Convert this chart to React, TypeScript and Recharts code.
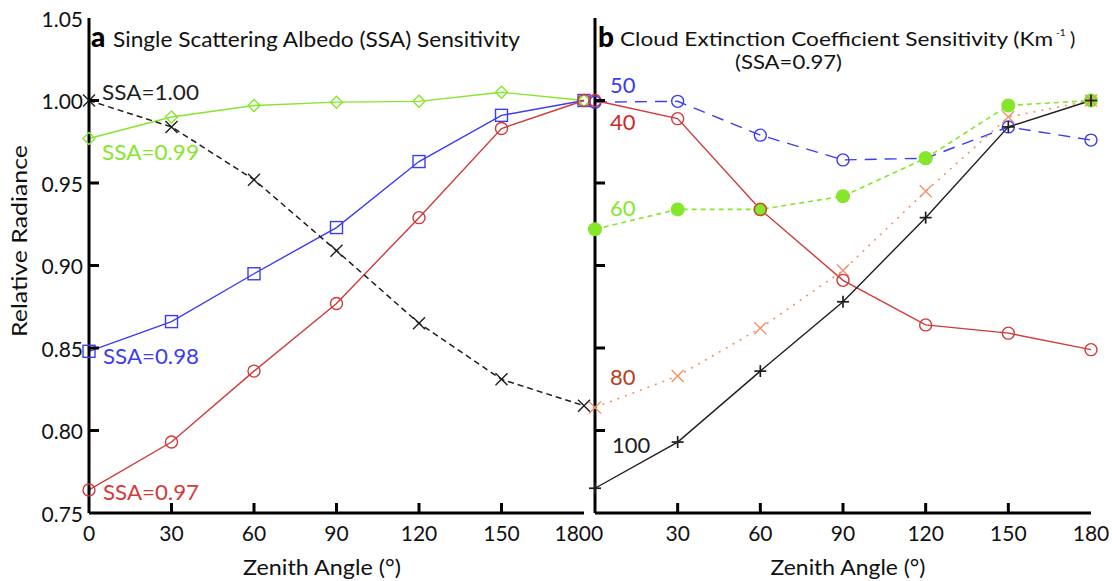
import React from 'react';
import { LineChart, Line, XAxis, YAxis } from 'recharts';

// zenith angles (deg)
const angles = [0, 30, 60, 90, 120, 150, 180];

// panel a: single scattering albedo sensitivity
const ssa100 = [1.0, 0.984, 0.952, 0.909, 0.865, 0.831, 0.815];
const ssa099 = [0.977, 0.99, 0.997, 0.999, 0.9995, 1.005, 1.0];
const ssa098 = [0.848, 0.866, 0.895, 0.923, 0.963, 0.991, 1.0];
const ssa097 = [0.764, 0.793, 0.836, 0.877, 0.929, 0.983, 1.0];

// panel b: cloud extinction coefficient sensitivity (SSA=0.97)
const ext40 = [1.0, 0.989, 0.934, 0.891, 0.864, 0.859, 0.849];
const ext50 = [0.999, 0.9995, 0.979, 0.964, 0.965, 0.984, 0.976];
const ext60 = [0.922, 0.934, 0.934, 0.942, 0.965, 0.997, 1.0];
const ext80 = [0.814, 0.833, 0.862, 0.897, 0.945, 0.99, 1.0];
const ext100 = [0.765, 0.793, 0.836, 0.878, 0.929, 0.984, 1.0];

const xTicks = [0, 30, 60, 90, 120, 150, 180];
const xInnerTicks = [30, 60, 90, 120, 150];
const yTicks = [0.75, 0.8, 0.85, 0.9, 0.95, 1.0, 1.05];
const yInnerTicks = [0.8, 0.85, 0.9, 0.95, 1.0];

const dataA = angles.map((a, i) => ({ angle: a, s100: ssa100[i], s099: ssa099[i], s098: ssa098[i], s097: ssa097[i] }));
const dataB = angles.map((a, i) => ({ angle: a, e40: ext40[i], e50: ext50[i], e60: ext60[i], e80: ext80[i], e100: ext100[i] }));

const FONT = 'Lato, "Open Sans", sans-serif';
const BLACK = '#1e1e1e';
const GREEN = '#86e62c';
const BLUE = '#3c3cf2';
const RED = '#d23a3a';
const ORANGE = '#f0946a';

type DotKind = 'x' | 'plus' | 'diamond' | 'square' | 'circle' | 'disc';

function makeDot(kind: DotKind, color: string) {
  return (p: any) => {
    const { cx, cy, index } = p;
    const k = `${kind}-${color}-${index}`;
    if (cx == null || cy == null) return <g key={k} />;
    const s = 6;
    const sw = 1.4;
    switch (kind) {
      case 'x':
        return (
          <g key={k} stroke={color} strokeWidth={sw}>
            <line x1={cx - s} y1={cy - s} x2={cx + s} y2={cy + s} />
            <line x1={cx - s} y1={cy + s} x2={cx + s} y2={cy - s} />
          </g>
        );
      case 'plus':
        return (
          <g key={k} stroke={color} strokeWidth={sw + 0.3}>
            <line x1={cx - s} y1={cy} x2={cx + s} y2={cy} />
            <line x1={cx} y1={cy - s} x2={cx} y2={cy + s} />
          </g>
        );
      case 'diamond':
        return <polygon key={k} points={`${cx},${cy - s} ${cx + s},${cy} ${cx},${cy + s} ${cx - s},${cy}`} fill="none" stroke={color} strokeWidth={sw} />;
      case 'square':
        return <rect key={k} x={cx - 6} y={cy - 6} width={12} height={12} fill="none" stroke={color} strokeWidth={sw} />;
      case 'circle':
        return <circle key={k} cx={cx} cy={cy} r={6} fill="none" stroke={color} strokeWidth={sw} />;
      default:
        return <circle key={k} cx={cx} cy={cy} r={7} fill={color} stroke="none" />;
    }
  };
}

const tickText = { fontFamily: FONT, fontSize: 21, fill: '#111' };

// the two panels share the "180"/"0" corner, so the end labels are pushed apart like "1800"
const bottomTick = (panel: 'a' | 'b') => (p: any) => {
  const { x, y, payload } = p;
  const v = payload.value;
  let anchor: 'middle' | 'end' | 'start' = 'middle';
  let tx = x;
  if (panel === 'a' && v === 180) { anchor = 'end'; tx = x + 7; }
  if (panel === 'b' && v === 0) { anchor = 'start'; tx = x - 4; }
  return (
    <g>
      {xInnerTicks.includes(v) && <line x1={x} x2={x} y1={y} y2={y - 10} stroke="#000" strokeWidth={3} />}
      <text x={tx} y={y + 19} textAnchor={anchor} dominantBaseline="central" {...tickText}>{v}</text>
    </g>
  );
};

const topTick = (p: any) => {
  const { x, y } = p;
  return <line x1={x} x2={x} y1={y} y2={y + 10} stroke="#000" strokeWidth={3} />;
};

const leftTick = (labels: boolean) => (p: any) => {
  const { x, y, payload } = p;
  const v = payload.value;
  const inner = yInnerTicks.some((t) => Math.abs(t - v) < 1e-6);
  return (
    <g>
      {inner && <line x1={x} x2={x + 10} y1={y} y2={y} stroke="#000" strokeWidth={3} />}
      {labels && (
        <text x={x - 6} y={y} textAnchor="end" dominantBaseline="central" {...tickText}>{v.toFixed(2)}</text>
      )}
    </g>
  );
};

const rightTick = (p: any) => {
  const { x, y, payload } = p;
  const v = payload.value;
  const inner = yInnerTicks.some((t) => Math.abs(t - v) < 1e-6);
  return inner ? <line x1={x} x2={x - 10} y1={y} y2={y} stroke="#000" strokeWidth={3} /> : <g />;
};

const axisLine = { stroke: '#000', strokeWidth: 3 };

const Panel: React.FC<{ id: 'a' | 'b'; data: any[]; width: number; yWidth: number; right: number; children: React.ReactNode }> = ({ id, data, width, yWidth, right, children }) => (
  <LineChart width={width} height={581} data={data} margin={{ top: 18, right, bottom: 0, left: 0 }} style={{ overflow: 'visible' }}>
    <XAxis dataKey="angle" type="number" domain={[0, 180]} ticks={xTicks} interval={0} height={68} tickSize={0} tickMargin={0} tickLine={false} axisLine={axisLine} tick={bottomTick(id)} />
    <XAxis xAxisId="top" orientation="top" dataKey="angle" type="number" domain={[0, 180]} ticks={xInnerTicks} interval={0} height={0} tickSize={0} tickMargin={0} tickLine={false} axisLine={axisLine} tick={topTick} />
    <YAxis type="number" domain={[0.75, 1.05]} ticks={yTicks} interval={0} width={yWidth} tickSize={0} tickMargin={0} tickLine={false} axisLine={axisLine} tick={leftTick(id === 'a')} />
    <YAxis yAxisId="right" orientation="right" type="number" domain={[0.75, 1.05]} ticks={yTicks} interval={0} width={0} tickSize={0} tickMargin={0} tickLine={false} axisLine={axisLine} tick={rightTick} />
    {children}
  </LineChart>
);

export default function App() {
  const lbl = { fontFamily: FONT, fontSize: 22 };
  return (
    <div style={{ position: 'absolute', left: 0, top: 0, width: 1112, height: 581, background: '#fff', overflow: 'hidden' }}>
      <div style={{ position: 'absolute', left: 0, top: 0 }}>
        <Panel id="a" data={dataA} width={600} yWidth={89} right={16}>
          <Line dataKey="s099" stroke={GREEN} strokeWidth={1.4} dot={makeDot('diamond', GREEN)} isAnimationActive={false} />
          <Line dataKey="s098" stroke={BLUE} strokeWidth={1.4} dot={makeDot('square', BLUE)} isAnimationActive={false} />
          <Line dataKey="s097" stroke={RED} strokeWidth={1.4} dot={makeDot('circle', RED)} isAnimationActive={false} />
          <Line dataKey="s100" stroke={BLACK} strokeWidth={1.5} strokeDasharray="6 4" dot={makeDot('x', BLACK)} isAnimationActive={false} />
        </Panel>
      </div>
      <div style={{ position: 'absolute', left: 540, top: 0 }}>
        <Panel id="b" data={dataB} width={572} yWidth={55} right={21}>
          <Line dataKey="e50" stroke={BLUE} strokeWidth={1.4} strokeDasharray="12 8" dot={makeDot('circle', BLUE)} isAnimationActive={false} />
          <Line dataKey="e60" stroke={GREEN} strokeWidth={1.6} strokeDasharray="5 4" dot={makeDot('disc', GREEN)} isAnimationActive={false} />
          <Line dataKey="e80" stroke={ORANGE} strokeWidth={1.6} strokeDasharray="2 6" dot={makeDot('x', ORANGE)} isAnimationActive={false} />
          <Line dataKey="e40" stroke={RED} strokeWidth={1.4} dot={makeDot('circle', RED)} isAnimationActive={false} />
          <Line dataKey="e100" stroke={BLACK} strokeWidth={1.4} dot={makeDot('plus', BLACK)} isAnimationActive={false} />
        </Panel>
      </div>
      <svg width={1112} height={581} style={{ position: 'absolute', left: 0, top: 0, pointerEvents: 'none' }}>
        <text x={91} y={47} fontFamily={FONT} fontSize={28} fontWeight={900} fill="#000">a</text>
        <text x={113} y={47} fontFamily={FONT} fontSize={21} fill="#111" textLength={407} lengthAdjust="spacingAndGlyphs">Single Scattering Albedo (SSA) Sensitivity</text>
        <text x={598} y={47} fontFamily={FONT} fontSize={28} fontWeight={900} fill="#000">b</text>
        <text x={620} y={46} fontFamily={FONT} fontSize={20} fill="#111" textLength={433} lengthAdjust="spacingAndGlyphs">Cloud Extinction Coefficient Sensitivity (Km</text>
        <text x={1056} y={36} fontFamily={FONT} fontSize={10} fill="#111">-1</text>
        <text x={1070} y={46} fontFamily={FONT} fontSize={20} fill="#111">)</text>
        <text x={735} y={69} fontFamily={FONT} fontSize={20} fill="#111" textLength={107} lengthAdjust="spacingAndGlyphs">(SSA=0.97)</text>

        <text x={102} y={100} {...lbl} fill={BLACK} textLength={97} lengthAdjust="spacingAndGlyphs">SSA=1.00</text>
        <text x={102} y={160} {...lbl} fill={GREEN} textLength={97} lengthAdjust="spacingAndGlyphs">SSA=0.99</text>
        <text x={103} y={364} {...lbl} fill={BLUE} textLength={96} lengthAdjust="spacingAndGlyphs">SSA=0.98</text>
        <text x={103} y={500} {...lbl} fill={RED} textLength={96} lengthAdjust="spacingAndGlyphs">SSA=0.97</text>

        <text x={610} y={93} {...lbl} fill={BLUE}>50</text>
        <text x={610} y={130} {...lbl} fill="#cc2a2a">40</text>
        <text x={610} y={216} {...lbl} fill={GREEN}>60</text>
        <text x={610} y={385} {...lbl} fill="#b8401c">80</text>
        <text x={612} y={453} {...lbl} fill={BLACK}>100</text>

        <text x={322} y={575} textAnchor="middle" fontFamily={FONT} fontSize={22} fill="#111" textLength={158} lengthAdjust="spacingAndGlyphs">Zenith Angle (°)</text>
        <text x={848} y={575} textAnchor="middle" fontFamily={FONT} fontSize={22} fill="#111" textLength={155} lengthAdjust="spacingAndGlyphs">Zenith Angle (°)</text>
        <text transform="translate(27,241) rotate(-90)" textAnchor="middle" fontFamily={FONT} fontSize={21} fill="#111" textLength={192} lengthAdjust="spacingAndGlyphs">Relative Radiance</text>
      </svg>
    </div>
  );
}
